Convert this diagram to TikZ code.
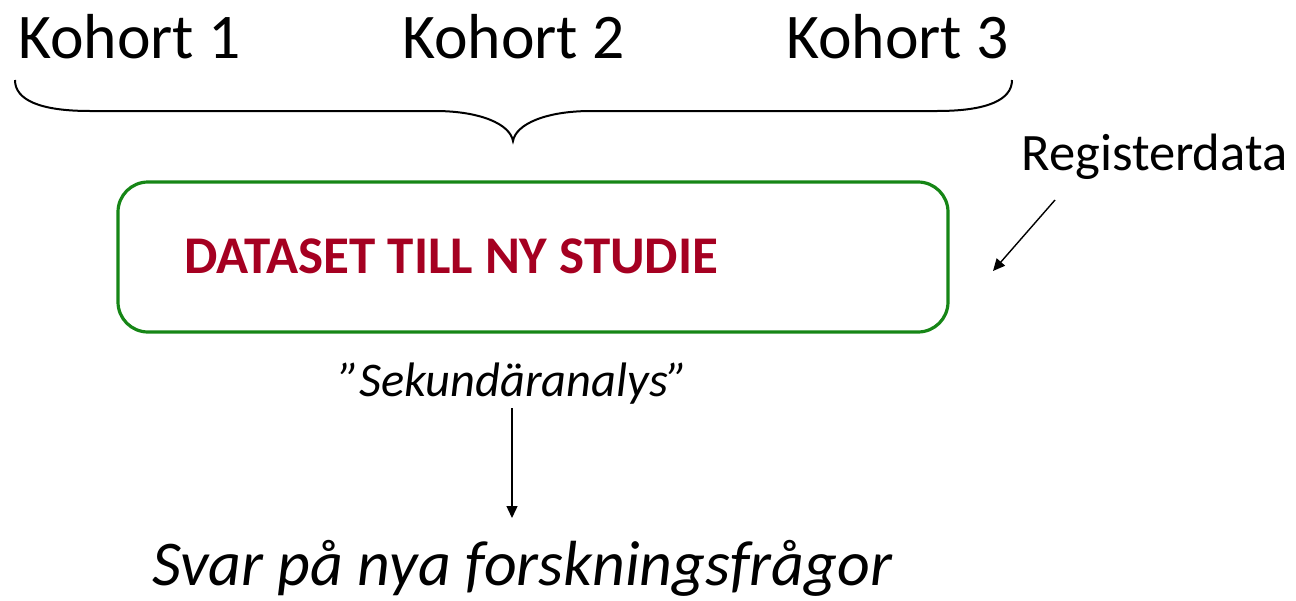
\documentclass[tikz,border=0pt]{standalone}
\usepackage{fontspec}
\setmainfont{Carlito}
\usetikzlibrary{arrows.meta}
\definecolor{boxgreen}{RGB}{22,134,22}
\definecolor{darkred}{RGB}{165,0,33}
\begin{document}
\begin{tikzpicture}[x=0.5pt,y=-0.5pt,
  lbl/.style={inner sep=0pt,anchor=base west},
  big/.style={font=\fontsize{31.8}{38}\selectfont},
  conn/.style={line width=0.7pt,-{Triangle[length=6pt,width=5.5pt]}},
  bracestyle/.style={line width=1pt},
  databox/.style={draw=boxgreen,line width=1.6pt,rounded corners=15pt}]
\useasboundingbox (0,0) rectangle (1296,600);
% cohorts
\node[lbl,big] (k1) at (18,58) {Kohort 1};
\node[lbl,big] (k2) at (402,58) {Kohort 2};
\node[lbl,big] (k3) at (786,58) {Kohort 3};
% brace
\coordinate (bl) at (15,80);
\coordinate (bt) at (513,141);
\coordinate (br) at (1012,80);
\draw[bracestyle] (bl) .. controls (15,100) and (40,111) .. (90,111) -- (435,111)
  .. controls (480,111) and (510,124) .. (bt)
  .. controls (516,124) and (546,111) .. (591,111) -- (937,111)
  .. controls (987,111) and (1012,100) .. (br);
% dataset box
\draw[databox] (118,182) rectangle (948,332);
\node[lbl,font=\fontsize{26.5}{32}\selectfont\bfseries,text=darkred] (ds) at (184,273) {DATASET TILL NY STUDIE};
% registerdata
\node[lbl,font=\fontsize{26.3}{31}\selectfont] (reg) at (1021,170) {Registerdata};
\coordinate (ra) at (1055,200);
\coordinate (rb) at (993,271);
\draw[conn] (ra) -- (rb);
% secondary analysis
\node[lbl,font=\fontsize{24.2}{29}\selectfont\itshape] (sek) at (339,396) {”Sekundäranalys”};
\coordinate (sa) at (512,408);
\coordinate (sb) at (512,518);
\draw[conn] (sa) -- (sb);
% answer
\node[lbl,font=\fontsize{31.9}{38}\selectfont\itshape] (svar) at (152,585) {Svar på nya forskningsfrågor};
\end{tikzpicture}
\end{document}
